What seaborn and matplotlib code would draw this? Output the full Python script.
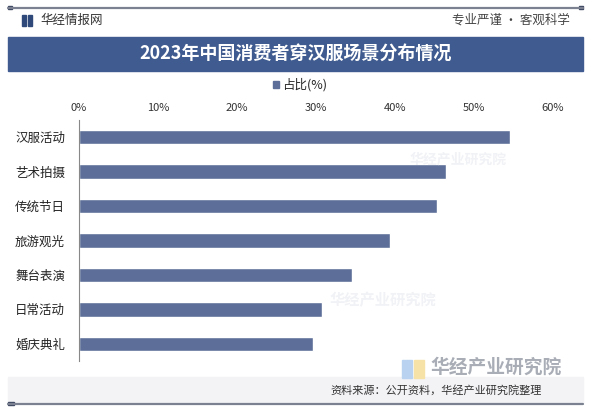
import matplotlib
matplotlib.use("Agg")
import matplotlib.pyplot as plt
import seaborn as sns
import pandas as pd
from matplotlib.patches import Rectangle, Patch
from matplotlib.lines import Line2D

categories = ["汉服活动", "艺术拍摄", "传统节日", "旅游观光", "舞台表演", "日常活动", "婚庆典礼"]
values = [54.6, 46.5, 45.3, 39.4, 34.6, 30.8, 29.6]
xticks = [0, 10, 20, 30, 40, 50, 60]
xtick_labels = ["0%", "10%", "20%", "30%", "40%", "50%", "60%"]
title = "2023年中国消费者穿汉服场景分布情况"
series_name = "占比(%)"
source = "资料来源：公开资料，华经产业研究院整理"

sns.set_theme(style="white")
plt.rcParams['font.family'] = ['Noto Sans CJK SC', 'DejaVu Sans']

W, H = 591, 412
fig = plt.figure(figsize=(W / 100, H / 100), dpi=100)
fig.patch.set_facecolor("white")

def px(x, y):
    return x / W, 1 - y / H

BAR = "#5d6f98"
TITLE_BG = "#3f5b8f"

# top rule
fig.add_artist(Line2D([8 / W, 583 / W], [1 - 7.5 / H] * 2, color="#7b8191", lw=1.6))
fig.add_artist(Rectangle(px(8, 9), 4 / W, 3 / H, color="#3b4660"))
fig.add_artist(Rectangle(px(579, 9), 4 / W, 3 / H, color="#3b4660"))
# header
fig.add_artist(Rectangle(px(22, 26), 4 / W, 11 / H, color="#2f4a7a"))
fig.add_artist(Rectangle(px(28, 26), 4 / W, 11 / H, color="#2f4a7a"))
fig.text(*px(40, 20), "华经情报网", fontsize=9, color="#333333", va="center", ha="left")
fig.text(*px(570, 20), "专业严谨 • 客观科学", fontsize=9, color="#444444", va="center", ha="right")
# title bar
fig.add_artist(Rectangle(px(8, 71), 575 / W, 34 / H, color=TITLE_BG))
fig.text(*px(296, 53), title, fontsize=13, color="white", fontweight="bold", va="center", ha="center")

# bottom band
fig.add_artist(Rectangle(px(8, 403), 575 / W, 26 / H, color="#f3f3f6", zorder=0))
fig.add_artist(Line2D([8 / W, 583 / W], [1 - 403.5 / H] * 2, color="#7b8191", lw=1.6))
fig.add_artist(Rectangle(px(8, 405), 6 / W, 3 / H, color="#3b4660"))
fig.text(*px(330, 390), source, fontsize=8, color="#333333", va="center", ha="left")

# faint watermarks
for (x, y, s) in [(410, 160, 10), (330, 300, 11)]:
    fig.text(*px(x, y), "华经产业研究院", fontsize=s, color="#f1f2f6", va="center", ha="left",
             fontweight="bold", zorder=0)
fig.add_artist(Rectangle(px(402, 378), 10 / W, 18 / H, color="#b9d2ef", zorder=1))
fig.add_artist(Rectangle(px(414, 378), 10 / W, 18 / H, color="#f6e2a6", zorder=1))
fig.text(*px(430, 367), "华经产业研究院", fontsize=13.5, color="#a9adb6", va="center", ha="left",
         fontweight="bold")

ax = fig.add_axes([79 / W, 1 - 361 / H, (553 - 79) / W, (361 - 120) / H])
ax.set_facecolor("none")
df = pd.DataFrame({"场景": categories, "占比": values})
sns.barplot(data=df, x="占比", y="场景", orient="h", color=BAR, width=0.42,
            saturation=1, ax=ax)
ax.set_xlim(0, 60)
ax.set_ylim(6.5, -0.5)
ax.set_xlabel("")
ax.set_ylabel("")
ax.xaxis.tick_top()
ax.set_xticks(xticks)
ax.set_xticklabels(xtick_labels, fontsize=8, color="#333333")
ax.tick_params(axis="x", length=0, pad=5)
ax.tick_params(axis="y", which="major", length=0, pad=10, labelsize=9, labelcolor="#222222")
ax.set_yticks([i - 0.5 for i in range(len(categories) + 1)], minor=True)
ax.tick_params(axis="y", which="minor", length=3, color="#888888", width=0.8, direction="out")
for s in ["top", "right", "bottom"]:
    ax.spines[s].set_visible(False)
ax.spines["left"].set_color("#888888")
ax.spines["left"].set_linewidth(0.8)

fig.legend(handles=[Patch(color=BAR)], labels=[series_name], loc="center",
           bbox_to_anchor=px(300, 85), frameon=False, fontsize=9,
           handlelength=0.5, handleheight=0.5, handletextpad=0.3)

fig.savefig("out.png", dpi=100)
